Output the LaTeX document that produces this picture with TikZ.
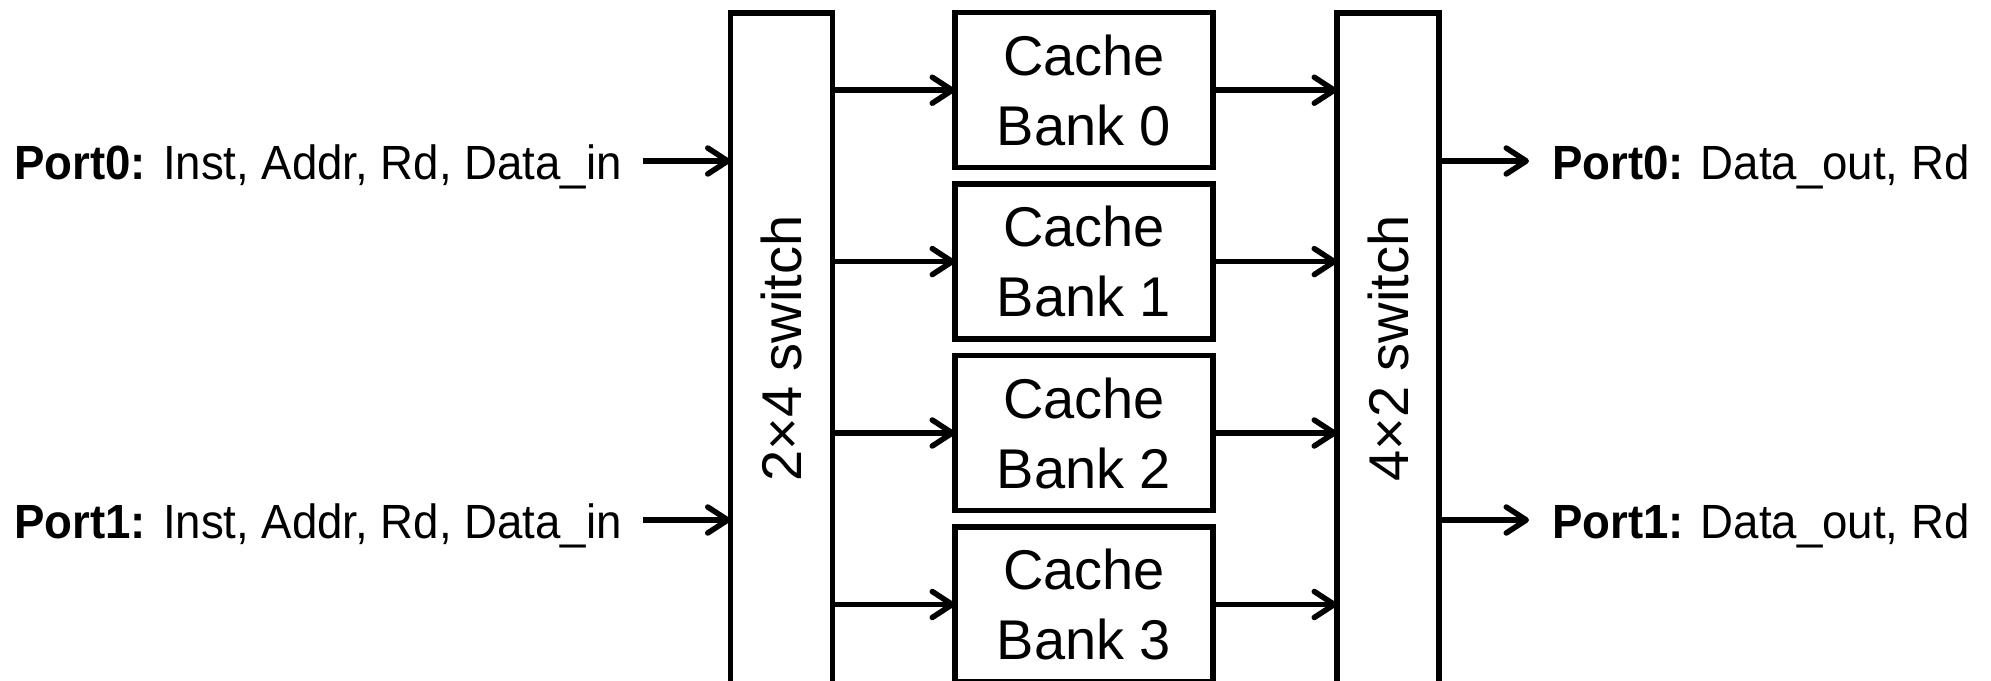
\documentclass[tikz,border=0pt]{standalone}
\usepackage{fontspec}
\setmainfont{Liberation Sans}
\newfontfamily\portfont[FakeStretch=0.95]{Liberation Sans}
\usetikzlibrary{arrows.meta}
\begin{document}
\begin{tikzpicture}[x=1pt,y=1pt,
  box/.style={draw, line width=5.5pt, inner sep=0pt, outer sep=0pt},
  switchbox/.style={box, minimum width=102pt, minimum height=671pt},
  bankbox/.style={box, minimum width=258pt, minimum height=155pt, align=center,
    font=\fontsize{56}{70}\selectfont},
  swlabel/.style={rotate=90, inner sep=0pt, font=\fontsize{56}{70}\selectfont},
  portlbl/.style={inner sep=0pt, font=\portfont\fontsize{48}{58}\selectfont},
  arr/.style={line width=5.5pt,
    -{Straight Barb[length=20pt,width=26pt,line cap=round,line join=round]}}
]
\useasboundingbox (0,0) rectangle (1991,-680);
\clip (0,0) rectangle (1991,-680);

% switches
\node[switchbox] (lsw) at (781.5,-348.5) {};
\node[swlabel] (lswlbl) at (lsw.center) {2×4 switch};
\node[switchbox] (rsw) at (1388,-348.5) {};
\node[swlabel] (rswlbl) at (rsw.center) {4×2 switch};

% cache banks and their links
\foreach \i/\y in {0/90.2,1/261.6,2/433,3/604.5}{
  \node[bankbox] (b\i) at (1084,-\y) {Cache\\Bank \i};
  \draw[arr] (lsw.east |- b\i.west) -- (b\i.west);
  \draw[arr] (b\i.east) -- (rsw.west |- b\i.east);
}

% input ports
\foreach \i/\y in {0/161,1/520}{
  \coordinate (s\i) at (643,-\y);
  \draw[arr] (s\i) -- (s\i -| lsw.west);
  \node[portlbl, anchor=base east] (in\i) at (622,-\y-18)
    {\textbf{Port\i:} Inst, Addr, Rd, Data\_in};
}

% output ports
\foreach \i/\y in {0/161,1/520}{
  \coordinate (e\i) at (1529,-\y);
  \draw[arr] (e\i -| rsw.east) -- (e\i);
  \node[portlbl, anchor=base west] (out\i) at (1552,-\y-18)
    {\textbf{Port\i:} Data\_out, Rd};
}
\end{tikzpicture}
\end{document}
